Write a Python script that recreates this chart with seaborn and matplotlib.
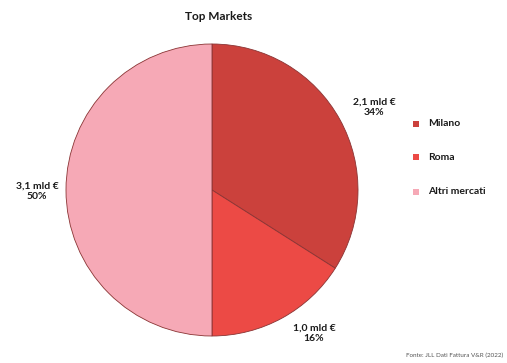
import matplotlib
matplotlib.use("Agg")
import matplotlib.pyplot as plt
import seaborn as sns

# Market shares (billion EUR) and their percentage share
markets = ["Milano", "Roma", "Altri mercati"]
values_bn = [2.1, 1.0, 3.1]
shares_pct = [34, 16, 50]
colors = ["#cb413c", "#ec4a45", "#f6a9b6"]

sns.set_theme(style="white")
plt.rcParams["font.family"] = ["Lato", "DejaVu Sans"]

W, H = 507, 363
fig = plt.figure(figsize=(W / 100, H / 100), dpi=100)
fig.patch.set_facecolor("white")

# pie axes: square box centred on the pie
cx, cy, r = 212, 190, 146
ax = fig.add_axes([(cx - r) / W, 1 - (cy + r) / H, 2 * r / W, 2 * r / H])
wedges, _ = ax.pie(
    shares_pct,
    colors=colors,
    startangle=90,
    counterclock=False,
    wedgeprops=dict(linewidth=0.6, edgecolor="#8a3434"),
    radius=1.0,
)
ax.set_xlim(-1.0, 1.0)
ax.set_ylim(-1.0, 1.0)
ax.set_aspect("equal")
ax.axis("off")

def fmt(v):
    return f"{v:.1f}".replace(".", ",") + " mld €"

# slice labels (pixel positions of the text centres)
label_pos = [(374, 107), (314, 333), (37, 191)]
for v, p, (lx, ly) in zip(values_bn, shares_pct, label_pos):
    fig.text(lx / W, 1 - ly / H, f"{fmt(v)}\n{p}%", ha="center", va="center",
             fontsize=7.5, fontweight="bold", color="#1a1a1a", linespacing=1.15)

# legend
legend_y = [124, 157, 192]
for name, c, ly in zip(markets, colors, legend_y):
    fig.patches.append(plt.Rectangle(((416 - 3) / W, 1 - (ly + 3) / H), 6 / W, 6 / H,
                                     transform=fig.transFigure, facecolor=c,
                                     edgecolor="none"))
    fig.text(428 / W, 1 - ly / H, name, ha="left", va="center",
             fontsize=7.5, fontweight="bold", color="#1a1a1a")

fig.text(219 / W, 1 - 16 / H, "Top Markets", ha="center", va="center",
         fontsize=8.5, fontweight="bold", color="#1a1a1a")
fig.text(503 / W, 1 - 355 / H, "Fonte: JLL Dati Fattura V&R (2022)", ha="right",
         va="center", fontsize=4.5, color="#555555")

fig.savefig("out.png", dpi=100, facecolor="white")
